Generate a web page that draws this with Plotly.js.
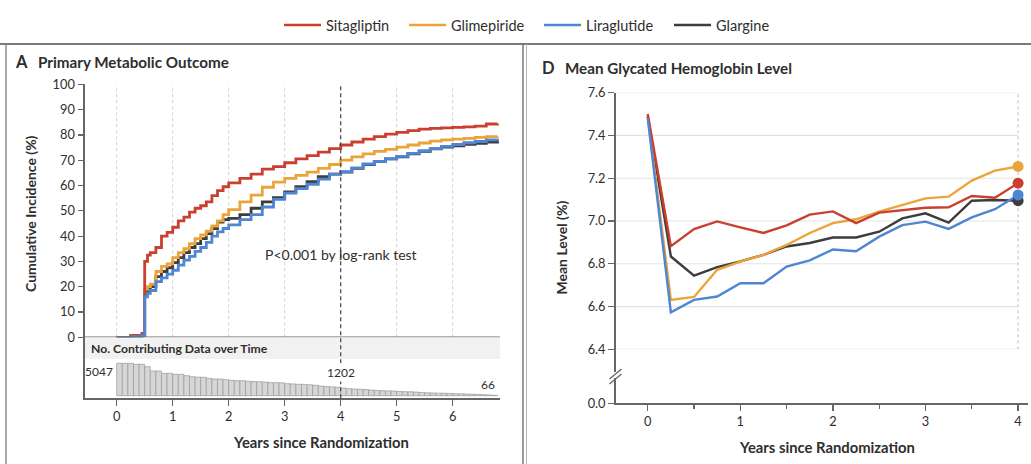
<!DOCTYPE html>
<html>
<head>
<meta charset="utf-8">
<script src="https://cdn.plot.ly/plotly-3.0.1.min.js"></script>
<style>
  html, body { margin: 0; padding: 0; background: #ffffff; }
  #chart { width: 1031px; height: 464px; }
</style>
</head>
<body>
<div id="chart"></div>
<script>
// ---- Panel A: cumulative incidence of the primary metabolic outcome (%) ----
const kmYears = [0, 0.25, 0.45, 0.50, 0.55, 0.60, 0.70, 0.80, 0.90, 1.0, 1.1, 1.2, 1.3, 1.4, 1.5, 1.6, 1.7, 1.8, 1.9, 2.0,
  2.2, 2.4, 2.6, 2.8, 3.0, 3.2, 3.4, 3.6, 3.8, 4.0, 4.2, 4.4, 4.6, 4.8, 5.0, 5.2, 5.4, 5.6, 5.8, 6.0, 6.2, 6.4, 6.6, 6.8];
const kmSitagliptin = [0, 0.8, 1.5, 30, 32.5, 33.5, 35.5, 40, 41.5, 43.5, 46, 47.5, 49.5, 51, 52, 53.5, 56, 58, 59.5, 61,
  62.8, 64.5, 66.5, 67.5, 69, 70.5, 71.8, 73.2, 74.6, 76, 77.2, 78.3, 79.3, 80.3, 81, 81.7, 82.3, 82.6, 82.8, 83, 83.2, 83.5, 84.3, 84.5];
const kmGlimepiride = [0, 0.3, 0.8, 19, 20, 21, 26, 28, 29, 31.5, 33.5, 35, 37, 39, 40.5, 42, 44, 46, 48.5, 50.5,
  53.5, 56.2, 59.3, 61.3, 62.8, 64, 65.3, 66.8, 68.3, 70, 71.3, 72.5, 73.5, 74.3, 75.2, 76, 76.8, 77.5, 78, 78.3, 78.6, 79, 79.3, 79.4];
const kmLiraglutide = [0, 0.3, 0.8, 16, 17.4, 18.5, 22, 23.5, 25, 26.5, 28.5, 30.5, 32, 34, 35.5, 37.5, 40, 41.7, 43, 44.4,
  46.5, 48.5, 51.5, 54.5, 57, 58.8, 60.5, 62.5, 64.5, 65.5, 67, 68.5, 69.5, 70.5, 71.5, 72.7, 73.8, 74.6, 75.5, 76.2, 76.9, 77.4, 78, 78.5];
const kmGlargine = [0, 0.3, 0.8, 17.5, 18.7, 20, 24, 26, 27.5, 29.5, 31.5, 33.5, 35.5, 37, 39, 41, 43, 45.5, 46.5, 47,
  48.5, 51, 53.5, 55.2, 57.5, 59.5, 61.5, 63.5, 64.5, 65.3, 66.8, 68.3, 69.5, 70.5, 71.3, 72.5, 73.5, 74.5, 75.2, 75.7, 76.3, 76.7, 77.2, 77.8];

// number of participants contributing data, per 0.1-year bin (bin start)
const countYears = [0.0, 0.1, 0.2, 0.3, 0.4, 0.5, 0.6, 0.7, 0.8, 0.9, 1.0, 1.1, 1.2, 1.3, 1.4, 1.5, 1.6, 1.7, 1.8, 1.9,
  2.0, 2.1, 2.2, 2.3, 2.4, 2.5, 2.6, 2.7, 2.8, 2.9, 3.0, 3.1, 3.2, 3.3, 3.4, 3.5, 3.6, 3.7, 3.8, 3.9,
  4.0, 4.1, 4.2, 4.3, 4.4, 4.5, 4.6, 4.7, 4.8, 4.9, 5.0, 5.1, 5.2, 5.3, 5.4, 5.5, 5.6, 5.7, 5.8, 5.9,
  6.0, 6.1, 6.2, 6.3, 6.4, 6.5, 6.6, 6.7];
const countValues = [5047, 5047, 5040, 4890, 4890, 4520, 3850, 3850, 3480, 3480, 3330, 3330, 3120, 2960, 2900, 2860, 2700, 2600, 2600, 2500,
  2400, 2340, 2340, 2250, 2200, 2180, 2120, 2050, 2030, 2000, 1870, 1830, 1780, 1760, 1700, 1620, 1500, 1420, 1380, 1320,
  1202, 1100, 1040, 1000, 960, 880, 820, 780, 760, 720, 660, 630, 610, 560, 500, 450, 420, 400, 380, 350,
  310, 290, 260, 220, 190, 160, 110, 66];
const countLabelYears = [0, 4, 6.7];

const kmTicksY = [0, 10, 20, 30, 40, 50, 60, 70, 80, 90, 100];
const yearTicksA = [0, 1, 2, 3, 4, 5, 6];
const landmarkYear = 4;

// ---- Panel D: mean glycated hemoglobin level (%) ----
const hbaYears = [0, 0.25, 0.5, 0.75, 1, 1.25, 1.5, 1.75, 2, 2.25, 2.5, 2.75, 3, 3.25, 3.5, 3.75, 4];
const hbaSitagliptin = [7.50, 6.882, 6.962, 6.998, 6.970, 6.944, 6.980, 7.030, 7.045, 6.990, 7.039, 7.052, 7.062, 7.064, 7.117, 7.109, 7.177];
const hbaGlimepiride = [7.49, 6.631, 6.645, 6.772, 6.810, 6.842, 6.888, 6.944, 6.990, 7.008, 7.044, 7.075, 7.106, 7.114, 7.189, 7.236, 7.255];
const hbaLiraglutide = [7.48, 6.573, 6.631, 6.647, 6.709, 6.709, 6.787, 6.816, 6.867, 6.859, 6.927, 6.981, 6.997, 6.963, 7.017, 7.055, 7.122];
const hbaGlargine = [7.49, 6.834, 6.744, 6.784, 6.811, 6.842, 6.881, 6.897, 6.923, 6.923, 6.950, 7.012, 7.036, 6.992, 7.095, 7.098, 7.095];
const hbaTicksY = [6.4, 6.6, 6.8, 7.0, 7.2, 7.4, 7.6];
const yearTicksD = [0, 1, 2, 3, 4];

const COLORS = {
  Sitagliptin: '#c9402f',
  Glimepiride: '#eba43a',
  Liraglutide: '#4f86d4',
  Glargine: '#3d3d3d'
};
const FONT = 'Lato, "Open Sans", sans-serif';
const INK = '#2e2e2e';
const AXIS = '#666666';

// pixel helpers for the fixed 1031 x 464 page
const W = 1031, H = 464;
const px = v => v / W;
const py = v => 1 - v / H;
const f = size => ({ family: FONT, size: size, color: INK });

// draw order puts blue over dark gray; each group has its own legend box along the top
const groups = [
  { name: 'Glargine', km: kmGlargine, hba: hbaGlargine, legend: 'legend4', legendLeft: 669 },
  { name: 'Glimepiride', km: kmGlimepiride, hba: hbaGlimepiride, legend: 'legend2', legendLeft: 404 },
  { name: 'Sitagliptin', km: kmSitagliptin, hba: hbaSitagliptin, legend: 'legend', legendLeft: 279 },
  { name: 'Liraglutide', km: kmLiraglutide, hba: hbaLiraglutide, legend: 'legend3', legendLeft: 539 }
];

const traces = [];
groups.forEach(g => {
  traces.push({
    type: 'scatter', mode: 'lines', x: kmYears, y: g.km,
    xaxis: 'x', yaxis: 'y', name: g.name, showlegend: false, hoverinfo: 'skip',
    line: { color: COLORS[g.name], width: 2.8, shape: 'hv' }
  });
});
traces.push({
  type: 'bar', x: countYears, y: countValues, xaxis: 'x', yaxis: 'y2',
  offset: 0, width: 0.1, showlegend: false, hoverinfo: 'skip',
  marker: { color: '#d6d6d6', line: { color: '#9a9a9a', width: 0.7 } }
});
groups.forEach(g => {
  traces.push({
    type: 'scatter', mode: 'lines', x: hbaYears, y: g.hba,
    xaxis: 'x2', yaxis: 'y3', name: g.name, legend: g.legend, showlegend: true,
    line: { color: COLORS[g.name], width: 2.4 }
  });
});
// closing value of each HbA1c series, marked with a dot
groups.forEach(g => {
  const last = g.hba.length - 1;
  traces.push({
    type: 'scatter', mode: 'markers', x: [hbaYears[last]], y: [g.hba[last]],
    xaxis: 'x2', yaxis: 'y3', showlegend: false, cliponaxis: false, hoverinfo: 'skip',
    marker: { color: COLORS[g.name], size: 11 }
  });
});
// lower segment of the broken HbA1c axis (carries only the 0.0 tick)
traces.push({ type: 'scatter', mode: 'markers', x: [], y: [], xaxis: 'x2', yaxis: 'y4', showlegend: false, hoverinfo: 'skip' });

const shapes = [];
// panel frame
shapes.push({ type: 'line', xref: 'paper', yref: 'paper', x0: 0, x1: 1, y0: py(44), y1: py(44), line: { color: '#7a7a7a', width: 2 } });
shapes.push({ type: 'line', xref: 'paper', yref: 'paper', x0: px(6), x1: px(6), y0: py(44), y1: 0, line: { color: '#8a8a8a', width: 1.5 } });
shapes.push({ type: 'line', xref: 'paper', yref: 'paper', x0: px(523), x1: px(523), y0: py(44), y1: 0, line: { color: '#7a7a7a', width: 1.5 } });
shapes.push({ type: 'line', xref: 'paper', yref: 'paper', x0: px(526.5), x1: px(526.5), y0: py(44), y1: 0, line: { color: '#b5b5b5', width: 1 } });

// panel A: dotted year gridlines and the 4-year landmark
yearTicksA.filter(t => t !== landmarkYear).forEach(t => {
  shapes.push({ type: 'line', xref: 'x', yref: 'y', x0: t, x1: t, y0: 0, y1: 100, layer: 'below',
    line: { color: '#d2d2d2', width: 1, dash: 'dot' } });
});
shapes.push({ type: 'rect', xref: 'x domain', yref: 'paper', x0: 0, x1: 1, y0: py(359), y1: py(338.3), layer: 'below',
  fillcolor: '#f1f1f1', line: { width: 0 } });
shapes.push({ type: 'line', xref: 'x domain', yref: 'y', x0: 0, x1: 1, y0: 0, y1: 0, line: { color: AXIS, width: 1.6 } });
shapes.push({ type: 'line', xref: 'x', yref: 'paper', x0: landmarkYear, x1: landmarkYear, y0: py(398.3), y1: py(84.3),
  line: { color: '#444444', width: 1.2, dash: '4px,3px' } });

// panel D: horizontal gridlines, 4-year reference line, axis break
hbaTicksY.forEach(v => {
  shapes.push({ type: 'line', xref: 'x2', yref: 'y3', x0: -0.346, x1: 4, y0: v, y1: v, layer: 'below',
    line: { color: '#e3e3e3', width: 1.2 } });
});
shapes.push({ type: 'line', xref: 'x2', yref: 'y3', x0: 4, x1: 4, y0: 6.4, y1: 7.6, layer: 'below',
  line: { color: '#bdbdbd', width: 1, dash: 'dot' } });
shapes.push({ type: 'rect', xref: 'paper', yref: 'paper', x0: px(614), x1: px(617.5), y0: py(378), y1: py(372),
  fillcolor: '#ffffff', line: { width: 0 } });
shapes.push({ type: 'line', xref: 'paper', yref: 'paper', x0: px(609.5), x1: px(621.5), y0: py(379), y1: py(369), line: { color: AXIS, width: 1.3 } });
shapes.push({ type: 'line', xref: 'paper', yref: 'paper', x0: px(609.5), x1: px(621.5), y0: py(384), y1: py(374), line: { color: AXIS, width: 1.3 } });

const ann = [];
const txt = (text, x, y, opts) => Object.assign({ text, x, y, xref: 'paper', yref: 'paper', showarrow: false,
  xanchor: 'center', yanchor: 'middle', font: f(13) }, opts || {});

ann.push(txt('<b>A</b>', px(13), py(62.5), { xanchor: 'left', font: f(16.5) }));
ann.push(txt('<b>Primary Metabolic Outcome</b>', px(36), py(62.5), { xanchor: 'left', font: f(15.2) }));
ann.push(txt('<b>D</b>', px(540), py(68.3), { xanchor: 'left', font: f(16.5) }));
ann.push(txt('<b>Mean Glycated Hemoglobin Level</b>', px(563), py(68.3), { xanchor: 'left', font: f(15.2) }));

ann.push(txt('<b>Cumulative Incidence (%)</b>', px(30), py(214), { textangle: -90, font: f(14) }));
ann.push(txt('<b>Mean Level (%)</b>', px(561.5), py(248), { textangle: -90, font: f(14) }));
ann.push(txt('<b>Years since Randomization</b>', px(321), py(441.5), { font: f(14.8) }));
ann.push(txt('<b>Years since Randomization</b>', px(827), py(447), { font: f(14.8) }));

ann.push(txt('P&lt;0.001 by log-rank test', px(340.5), py(254.5), { font: f(14) }));
ann.push(txt('<b>No. Contributing Data over Time</b>', px(89), py(348.5), { xanchor: 'left', font: f(12.2) }));

// value labels for the first, landmark and last contributing-data bars
countLabelYears.forEach((t, k) => {
  const i = countYears.indexOf(t);
  const v = countValues[i];
  const base = { text: String(v), xref: 'x', yref: 'y2', y: v, showarrow: false, font: f(12) };
  if (k === 0) ann.push(Object.assign(base, { x: t, xanchor: 'right', yanchor: 'top', xshift: -2, yshift: 1 }));
  else if (k === 1) ann.push(Object.assign(base, { x: t, xanchor: 'center', yanchor: 'bottom', yshift: 6, bgcolor: '#ffffff' }));
  else ann.push(Object.assign(base, { x: t + 0.1, xanchor: 'right', yanchor: 'bottom', yshift: 1 }));
});

const tickFont = f(12.8);
const layout = {
  width: W, height: H,
  margin: { l: 0, r: 0, t: 0, b: 0 },
  paper_bgcolor: '#ffffff', plot_bgcolor: 'rgba(0,0,0,0)',
  font: { family: FONT, color: INK },
  bargap: 0,
  showlegend: true,
  xaxis: { domain: [px(85), px(500)], range: [-0.566, 6.845], anchor: 'y2',
    tickvals: yearTicksA, ticks: 'outside', ticklen: 6, tickwidth: 1.2, tickcolor: AXIS,
    showline: true, linecolor: AXIS, linewidth: 1.6, showgrid: false, zeroline: false,
    tickfont: tickFont, fixedrange: true },
  yaxis: { domain: [py(337.3), py(84.3)], range: [0, 100], anchor: 'x',
    tickvals: kmTicksY, ticks: 'outside', ticklen: 5, tickwidth: 1.2, tickcolor: AXIS,
    showline: true, linecolor: AXIS, linewidth: 1.6, showgrid: false, zeroline: false,
    tickfont: tickFont, ticklabelstandoff: 1 },
  yaxis2: { domain: [py(398.3), py(337.3)], range: [-405, 9099], anchor: 'x',
    showticklabels: false, ticks: '', showline: true, linecolor: AXIS, linewidth: 1.6,
    showgrid: false, zeroline: false },
  xaxis2: { domain: [px(615.7), px(1028)], range: [-0.346, 4.107], anchor: 'y4',
    tickvals: yearTicksD, ticks: 'outside', ticklen: 6, tickwidth: 1.2, tickcolor: AXIS,
    minor: { dtick: 0.5, tick0: 0, ticks: 'outside', ticklen: 4, tickcolor: AXIS, showgrid: false },
    showline: true, linecolor: AXIS, linewidth: 1.6, showgrid: false, zeroline: false,
    tickfont: tickFont },
  yaxis3: { domain: [py(349.3), py(92.7)], range: [6.4, 7.6], anchor: 'x2',
    tickvals: hbaTicksY, tickformat: '.1f', ticks: 'outside', ticklen: 6, tickwidth: 1.2, tickcolor: AXIS,
    showline: true, linecolor: AXIS, linewidth: 1.6, showgrid: false, zeroline: false,
    tickfont: tickFont },
  yaxis4: { domain: [py(403.3), py(349.3)], range: [0, 1], anchor: 'x2',
    tickvals: [0], ticktext: ['0.0'], ticks: 'outside', ticklen: 6, tickwidth: 1.2, tickcolor: AXIS,
    showline: true, linecolor: AXIS, linewidth: 1.6, showgrid: false, zeroline: false,
    tickfont: tickFont },
  shapes: shapes,
  annotations: ann
};
groups.forEach(g => {
  layout[g.legend] = { orientation: 'h', x: px(g.legendLeft), xanchor: 'left', y: py(25), yanchor: 'middle',
    font: f(14.5), itemwidth: 37, bgcolor: 'rgba(0,0,0,0)', borderwidth: 0 };
});

Plotly.newPlot('chart', traces, layout, { staticPlot: true, displayModeBar: false });
</script>
</body>
</html>
